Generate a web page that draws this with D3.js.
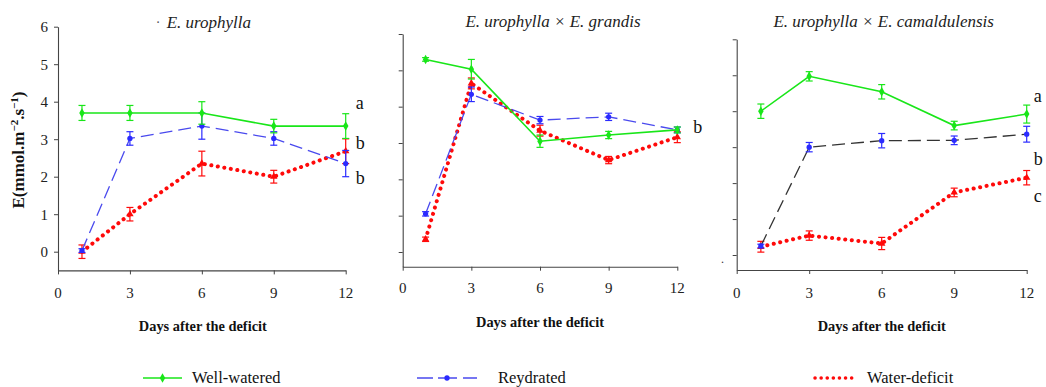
<!DOCTYPE html>
<html>
<head>
<meta charset="utf-8">
<script src="https://cdn.jsdelivr.net/npm/d3@7"></script>
<style>
  body { margin: 0; background: #fff; }
  svg, svg text { font-family: "Liberation Serif", Tinos, "Times New Roman", Times, "Noto Serif", "DejaVu Serif", serif; }
</style>
</head>
<body>
<script>
var FONT = "'Liberation Serif', Tinos, 'Times New Roman', Times, 'DejaVu Serif', serif";

// days sampled
var days = [1, 3, 6, 9, 12];
var xTicks = [0, 3, 6, 9, 12];
var yTicks = [0, 1, 2, 3, 4, 5, 6];
var titles = ["E. urophylla", "E. urophylla \u00d7 E. grandis", "E. urophylla \u00d7 E. camaldulensis"];

// E. urophylla
var uroWell = [3.7, 3.7, 3.7, 3.35, 3.35];
var uroWellErr = [0.2, 0.2, 0.3, 0.18, 0.33];
var uroRey = [0.03, 3.02, 3.35, 3.02, 2.35];
var uroReyErr = [0.05, 0.18, 0.35, 0.18, 0.35];
var uroDef = [0.0, 1.0, 2.35, 2.0, 2.68];
var uroDefErr = [0.18, 0.18, 0.33, 0.17, 0.33];

// E. urophylla x E. grandis
var graWell = [5.3, 5.03, 3.05, 3.22, 3.36];
var graWellErr = [0.05, 0.27, 0.17, 0.1, 0.08];
var graRey = [1.05, 4.34, 3.63, 3.72, 3.36];
var graReyErr = [0.06, 0.2, 0.1, 0.1, 0.08];
var graDef = [0.35, 4.64, 3.34, 2.53, 3.16];
var graDefErr = [0.06, 0.15, 0.15, 0.1, 0.15];

// E. urophylla x E. camaldulensis
var camWell = [4.0, 4.97, 4.54, 3.6, 3.92];
var camWellErr = [0.2, 0.13, 0.2, 0.12, 0.25];
var camRey = [0.25, 3.0, 3.18, 3.19, 3.36];
var camReyErr = [0.05, 0.13, 0.2, 0.12, 0.22];
var camDef = [0.23, 0.54, 0.32, 1.74, 2.15];
var camDefErr = [0.15, 0.13, 0.17, 0.12, 0.2];

// significance letters: [label, y value]
var uroLetters = [["a", 3.97], ["b", 2.9], ["b", 1.97]];
var graLetters = [["b", 3.44]];
var camLetters = [["a", 4.42], ["b", 2.69], ["c", 1.64]];

var legendLabels = ["Well-watered", "Reydrated", "Water-deficit"];

var GREEN = "#19e619", BLUE = "#2b2bff", RED = "#ff0a0a";

var svg = d3.select("body").append("svg")
  .attr("width", 1046).attr("height", 387)
  .attr("font-family", FONT);

var panels = [
  { x0: 58, x1: 345.7, yTop: 26.7, y0: 251.7, yBase: 270.4, showLabels: true, tickLabelY: 298,
    well: uroWell, wellErr: uroWellErr, rey: uroRey, reyErr: uroReyErr, def: uroDef, defErr: uroDefErr,
    reyLine: "#4a4aee", letters: uroLetters, letterDx: 10, titleY: 28, titleDx: 7, xLabelY: 331 },
  { x0: 402.7, x1: 677.3, yTop: 34, y0: 252, yBase: 266.7, showLabels: false, tickLabelY: 293,
    well: graWell, wellErr: graWellErr, rey: graRey, reyErr: graReyErr, def: graDef, defErr: graDefErr,
    reyLine: "#4a4aee", letters: graLetters, letterDx: 16, titleY: 27, titleDx: 13, xLabelY: 327 },
  { x0: 736.7, x1: 1026.7, yTop: 39.3, y0: 255, yBase: 270, showLabels: false, tickLabelY: 298,
    well: camWell, wellErr: camWellErr, rey: camRey, reyErr: camReyErr, def: camDef, defErr: camDefErr,
    reyLine: "#333333", letters: camLetters, letterDx: 7, titleY: 27, titleDx: 2, xLabelY: 331 }
];

var diamond = d3.symbol().type(d3.symbolDiamond).size(26);
var circle = d3.symbol().type(d3.symbolCircle).size(22);
var triangle = d3.symbol().type(d3.symbolTriangle).size(24);

panels.forEach(function (p, i) {
  var x = d3.scaleLinear().domain([0, 12]).range([p.x0, p.x1]);
  var unit = (p.y0 - p.yTop) / 6;
  var yMin = -(p.yBase - p.y0) / unit;
  var y = d3.scaleLinear().domain([yMin, 6]).range([p.yBase, p.yTop]);
  var g = svg.append("g");

  // axes
  var yAxis = d3.axisLeft(y).tickValues(yTicks).tickSize(4).tickSizeOuter(0)
    .tickFormat(p.showLabels ? d3.format("d") : "");
  var gy = g.append("g").attr("transform", "translate(" + p.x0 + ",0)").call(yAxis);
  var xAxis = d3.axisBottom(x).tickValues(xTicks).tickSize(4).tickSizeOuter(0).tickFormat("");
  var gx = g.append("g").attr("transform", "translate(0," + p.yBase + ")").call(xAxis);
  [gx, gy].forEach(function (a) {
    a.attr("font-family", FONT);
    a.select(".domain").attr("stroke", "#444").attr("stroke-width", 1.1);
    a.selectAll(".tick line").attr("stroke", "#444");
    a.selectAll(".tick text").attr("font-size", 15).attr("fill", "#222");
  });
  gy.selectAll(".tick text").attr("x", -10);
  g.selectAll(".xtl").data(xTicks).enter().append("text")
    .attr("x", function (d) { return x(d); }).attr("y", p.tickLabelY)
    .attr("text-anchor", "middle").attr("font-size", 15).attr("fill", "#222")
    .text(function (d) { return d; });

  var series = [
    { v: p.def, e: p.defErr, color: RED, line: RED, width: 4, dash: "0.1,6.5", cap: "round", sym: triangle },
    { v: p.rey, e: p.reyErr, color: BLUE, line: p.reyLine, width: 1.3, dash: "13,6", cap: "butt", sym: circle },
    { v: p.well, e: p.wellErr, color: GREEN, line: GREEN, width: 1.6, dash: null, cap: "butt", sym: diamond }
  ];
  var line = d3.line().x(function (d) { return x(d[0]); }).y(function (d) { return y(d[1]); });

  series.forEach(function (s) {
    var pts = days.map(function (d, k) { return [d, s.v[k], s.e[k]]; });
    g.append("path").datum(pts).attr("d", line)
      .attr("fill", "none").attr("stroke", s.line).attr("stroke-width", s.width)
      .attr("stroke-linecap", s.cap)
      .attr("stroke-dasharray", s.dash);
    var eb = g.append("g").attr("stroke", s.color).attr("stroke-width", 1.2);
    pts.forEach(function (d) {
      var cx = x(d[0]), t = y(d[1] + d[2]), b = y(d[1] - d[2]);
      eb.append("line").attr("x1", cx).attr("x2", cx).attr("y1", t).attr("y2", b);
      eb.append("line").attr("x1", cx - 3.5).attr("x2", cx + 3.5).attr("y1", t).attr("y2", t);
      eb.append("line").attr("x1", cx - 3.5).attr("x2", cx + 3.5).attr("y1", b).attr("y2", b);
    });
    g.selectAll(null).data(pts).enter().append("path")
      .attr("d", s.sym)
      .attr("transform", function (d) { return "translate(" + x(d[0]) + "," + y(d[1]) + ")"; })
      .attr("fill", s.color);
  });

  // letters
  g.selectAll(".letter").data(p.letters).enter().append("text")
    .attr("x", x(12) + p.letterDx).attr("y", function (d) { return y(d[1]); })
    .attr("dy", "0.35em").attr("font-size", 18).attr("fill", "#111")
    .text(function (d) { return d[0]; });

  // title
  g.append("text").attr("x", (x(0) + x(12)) / 2 + p.titleDx).attr("y", p.titleY)
    .attr("text-anchor", "middle").attr("font-size", 17).attr("font-style", "italic").attr("fill", "#222")
    .text(titles[i]);

  // x label
  g.append("text").attr("x", (x(0) + x(12)) / 2 + (i === 0 ? 1 : 0)).attr("y", p.xLabelY)
    .attr("text-anchor", "middle").attr("font-size", 15).attr("font-weight", "bold").attr("fill", "#111")
    .attr("textLength", 128).attr("lengthAdjust", "spacingAndGlyphs")
    .text("Days after the deficit");
});

// stray marks from the original figure
svg.append("text").attr("x", 158).attr("y", 27).attr("font-size", 14).attr("fill", "#555").attr("text-anchor", "middle").text("\u00b7");
svg.append("text").attr("x", 721).attr("y", 263).attr("font-size", 12).attr("fill", "#333").text(".");

// y label
svg.append("text").attr("transform", "translate(24,150) rotate(-90)")
  .attr("text-anchor", "middle").attr("font-size", 17).attr("font-weight", "bold").attr("fill", "#111")
  .html('E(mmol.m<tspan dy="-6" font-size="11">\u22122</tspan><tspan dy="6">.s</tspan><tspan dy="-6" font-size="11">\u22121</tspan><tspan dy="6">)</tspan>');

// legend
var legend = [
  { x0: 143, x1: 182, tx: 192, color: GREEN, line: GREEN, width: 1.6, dash: null, cap: "butt", sym: diamond },
  { x0: 417, x1: 477, tx: 498, color: BLUE, line: "#4a4aee", width: 1.6, dash: "16,5,19,6,14", cap: "butt", sym: circle },
  { x0: 815, x1: 853, tx: 867, color: RED, line: RED, width: 3.5, dash: "0.1,6", cap: "round", sym: null }
];
legend.forEach(function (l, i) {
  var ly = 378;
  svg.append("line").attr("x1", l.x0).attr("x2", l.x1).attr("y1", ly).attr("y2", ly)
    .attr("stroke", l.line).attr("stroke-width", l.width).attr("stroke-dasharray", l.dash)
    .attr("stroke-linecap", l.cap);
  if (l.sym) svg.append("path").attr("d", l.sym).attr("fill", l.color)
    .attr("transform", "translate(" + (l.x0 + l.x1) / 2 + "," + ly + ")");
  svg.append("text").attr("x", l.tx).attr("y", ly + 5).attr("font-size", 16.5).attr("fill", "#111")
    .text(legendLabels[i]);
});
</script>
</body>
</html>
